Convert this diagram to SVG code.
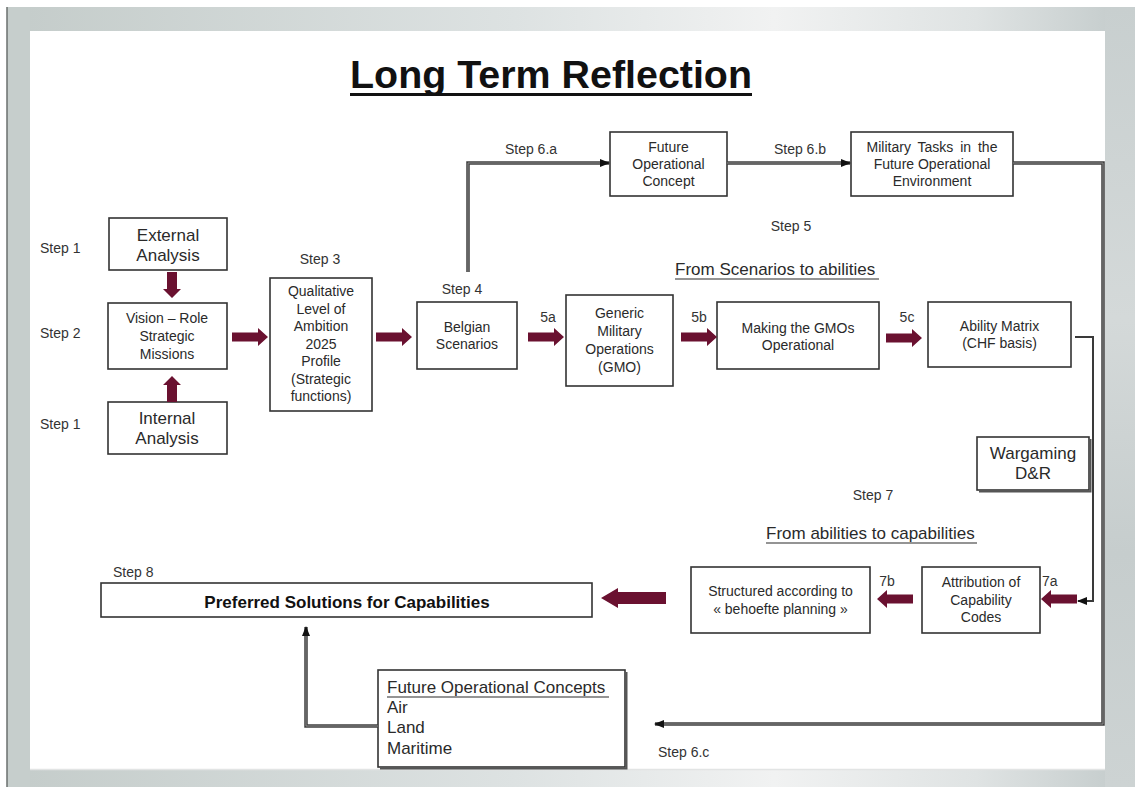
<svg xmlns="http://www.w3.org/2000/svg" width="1135" height="787" viewBox="0 0 1135 787">
  <defs>
    <linearGradient id="frameGrad" x1="0" y1="0" x2="1" y2="0">
      <stop offset="0" stop-color="#c4ccca"/>
      <stop offset="0.45" stop-color="#dde2e2"/>
      <stop offset="0.68" stop-color="#f1f2f2"/>
      <stop offset="0.86" stop-color="#dfe3e3"/>
      <stop offset="1" stop-color="#c2caca"/>
    </linearGradient>
    <linearGradient id="rightGrad" x1="0" y1="0" x2="0" y2="1">
      <stop offset="0" stop-color="#c8cfcf"/>
      <stop offset="0.4" stop-color="#d4d9d9"/>
      <stop offset="0.7" stop-color="#c6cdcd"/>
      <stop offset="1" stop-color="#cdd3d3"/>
    </linearGradient>
    <marker id="tip" viewBox="0 0 10 8" refX="9" refY="4" markerWidth="10" markerHeight="8" markerUnits="userSpaceOnUse" orient="auto">
      <path d="M0,0 L10,4 L0,8 Z" fill="#111"/>
    </marker>
    <!-- block arrows, origin at the tip, pointing right -->
    <path id="blk" d="M-36,-4.5 L-10,-4.5 L-10,-9 L0,0 L-10,9 L-10,4.5 L-36,4.5 Z"/>
    <path id="blkS" d="M-26,-5 L-9,-5 L-9,-9 L0,0 L-9,9 L-9,5 L-26,5 Z"/>
    <path id="blkL" d="M-65,-6 L-17,-6 L-17,-10 L0,0 L-17,10 L-17,6 L-65,6 Z"/>
    <style>
      .box { fill: #fff; stroke: #333; stroke-width: 1.6; }
      .shadow { fill: none; stroke: #555; stroke-width: 2; }
      .t { font-family: "Liberation Sans", Arial, sans-serif; font-size: 14px; fill: #2a2a2a; text-anchor: middle; }
      .tl { font-family: "Liberation Sans", Arial, sans-serif; font-size: 14px; fill: #2a2a2a; }
      .big { font-size: 17px; }
      .bold { font-size: 17px; font-weight: bold; fill: #111; }
      .step { font-family: "Liberation Sans", Arial, sans-serif; font-size: 14px; fill: #333; }
      .arr { fill: #6a1130; }
      .conn { fill: none; stroke: #3f3f3f; stroke-width: 3.5; }
      .connIn { fill: none; stroke: #8c8c8c; stroke-width: 1; }
      .thin { fill: none; stroke: #3a3a3a; stroke-width: 2; }
    </style>
  </defs>

  <!-- page frame -->
  <rect x="0" y="0" width="1135" height="787" fill="#fff"/>
  <rect x="7" y="7" width="1128" height="780" fill="url(#frameGrad)"/>
  <rect x="1105" y="7" width="30" height="780" fill="url(#rightGrad)"/>
  <rect x="7" y="7" width="23" height="780" fill="#c6cecc"/>
  <line x1="7" y1="7" x2="7" y2="787" stroke="#6a6f6e" stroke-width="1.5"/>
  <rect x="30" y="31" width="1075" height="738" fill="#fff"/>
  <line x1="30" y1="769.5" x2="1105" y2="769.5" stroke="#e2e4e4" stroke-width="1.5"/>

  <!-- title -->
  <g id="title">
    <text x="551" y="88" font-family="'Liberation Sans', Arial, sans-serif" font-size="39" font-weight="bold" fill="#111" text-anchor="middle" textLength="402" lengthAdjust="spacingAndGlyphs">Long Term Reflection</text>
    <rect x="350" y="93" width="402" height="3" fill="#111"/>
  </g>

  <!-- step labels -->
  <g id="labels">
    <text class="step" x="40" y="253">Step 1</text>
    <text class="step" x="40" y="338">Step 2</text>
    <text class="step" x="40" y="429">Step 1</text>
    <text class="step" x="320" y="264" text-anchor="middle">Step 3</text>
    <text class="step" x="462" y="294" text-anchor="middle">Step 4</text>
    <text class="step" x="531" y="154" text-anchor="middle">Step 6.a</text>
    <text class="step" x="800" y="154" text-anchor="middle">Step 6.b</text>
    <text class="step" x="791" y="231" text-anchor="middle">Step 5</text>
    <text class="step" x="873" y="500" text-anchor="middle">Step 7</text>
    <text class="step" x="113" y="577">Step 8</text>
    <text class="step" x="658" y="757">Step 6.c</text>
    <text class="step" x="548" y="322" text-anchor="middle">5a</text>
    <text class="step" x="699" y="322" text-anchor="middle">5b</text>
    <text class="step" x="907" y="322" text-anchor="middle">5c</text>
    <text class="step" x="887" y="586" text-anchor="middle">7b</text>
    <text class="step" x="1042" y="586">7a</text>
  </g>

  <!-- section headings -->
  <g id="heading-abilities">
    <text class="tl big" x="675" y="275">From Scenarios to abilities</text>
    <line x1="675" y1="279" x2="879" y2="279" stroke="#2a2a2a" stroke-width="1.2"/>
  </g>
  <g id="heading-capabilities">
    <text class="tl big" x="766" y="539">From abilities to capabilities</text>
    <line x1="766" y1="543" x2="977" y2="543" stroke="#2a2a2a" stroke-width="1.2"/>
  </g>

  <!-- nodes -->
  <g id="external-analysis">
    <rect class="box" x="109" y="218" width="118" height="52"/>
    <text class="t big" x="168" y="241">External</text>
    <text class="t big" x="168" y="261">Analysis</text>
  </g>
  <g id="vision">
    <rect class="box" x="108" y="303" width="119" height="66"/>
    <text class="t" x="167" y="323">Vision – Role</text>
    <text class="t" x="167" y="341">Strategic</text>
    <text class="t" x="167" y="359">Missions</text>
  </g>
  <g id="internal-analysis">
    <rect class="box" x="108" y="402" width="119" height="52"/>
    <text class="t big" x="167" y="424">Internal</text>
    <text class="t big" x="167" y="444">Analysis</text>
  </g>
  <g id="ambition">
    <rect class="box" x="270" y="278" width="102" height="133"/>
    <text class="t" x="321" y="296">Qualitative</text>
    <text class="t" x="321" y="313.5">Level of</text>
    <text class="t" x="321" y="331">Ambition</text>
    <text class="t" x="321" y="348.5">2025</text>
    <text class="t" x="321" y="366">Profile</text>
    <text class="t" x="321" y="383.5">(Strategic</text>
    <text class="t" x="321" y="401">functions)</text>
  </g>
  <g id="belgian-scenarios">
    <rect class="box" x="417" y="302" width="100" height="67"/>
    <text class="t" x="467" y="332">Belgian</text>
    <text class="t" x="467" y="349">Scenarios</text>
  </g>
  <g id="gmo">
    <rect class="box" x="566" y="295" width="107" height="91"/>
    <text class="t" x="619.5" y="318">Generic</text>
    <text class="t" x="619.5" y="336">Military</text>
    <text class="t" x="619.5" y="354">Operations</text>
    <text class="t" x="619.5" y="372">(GMO)</text>
  </g>
  <g id="gmo-operational">
    <rect class="box" x="717" y="302" width="162" height="67"/>
    <text class="t" x="798" y="333">Making the GMOs</text>
    <text class="t" x="798" y="350">Operational</text>
  </g>
  <g id="ability-matrix">
    <rect class="box" x="928" y="302" width="143" height="65"/>
    <text class="t" x="999.5" y="331">Ability Matrix</text>
    <text class="t" x="999.5" y="348">(CHF basis)</text>
  </g>
  <g id="future-operational-concept">
    <rect class="box" x="610" y="132" width="117" height="64"/>
    <text class="t" x="668.5" y="152">Future</text>
    <text class="t" x="668.5" y="169">Operational</text>
    <text class="t" x="668.5" y="186">Concept</text>
  </g>
  <g id="military-tasks">
    <rect class="box" x="851" y="132" width="162" height="64"/>
    <text class="t" x="932" y="152" word-spacing="3">Military Tasks in the</text>
    <text class="t" x="932" y="169">Future Operational</text>
    <text class="t" x="932" y="186">Environment</text>
  </g>
  <g id="wargaming">
    <rect class="box" x="977" y="437" width="112" height="53"/>
    <polyline class="shadow" points="1090.5,439 1090.5,491.5 979,491.5"/>
    <text class="t big" x="1033" y="459">Wargaming</text>
    <text class="t big" x="1033" y="479">D&amp;R</text>
  </g>
  <g id="attribution">
    <rect class="box" x="922" y="567" width="118" height="66"/>
    <text class="t" x="981" y="587">Attribution of</text>
    <text class="t" x="981" y="605">Capability</text>
    <text class="t" x="981" y="622">Codes</text>
  </g>
  <g id="structured">
    <rect class="box" x="691" y="567" width="179" height="66"/>
    <text class="t" x="780.5" y="596">Structured according to</text>
    <text class="t" x="780.5" y="614">« behoefte planning »</text>
  </g>
  <g id="preferred-solutions">
    <rect class="box" x="101" y="583" width="491" height="34"/>
    <text class="t bold" x="347" y="608">Preferred Solutions for Capabilities</text>
  </g>
  <g id="operational-concepts">
    <rect class="box" x="378" y="670" width="247" height="97"/>
    <polyline class="shadow" points="626.5,672 626.5,768.5 380,768.5"/>
    <text class="tl big" x="387" y="693">Future Operational Concepts</text>
    <line x1="387" y1="697" x2="609" y2="697" stroke="#2a2a2a" stroke-width="1.2"/>
    <text class="tl big" x="387" y="713">Air</text>
    <text class="tl big" x="387" y="733">Land</text>
    <text class="tl big" x="387" y="754">Maritime</text>
  </g>

  <!-- connectors -->
  <g id="connectors">
    <!-- block arrows -->
    <use href="#blkS" class="arr" transform="translate(172,298) rotate(90)"/>
    <use href="#blkS" class="arr" transform="translate(172,376) rotate(-90)"/>
    <use href="#blk" class="arr" transform="translate(268,337)"/>
    <use href="#blk" class="arr" transform="translate(412,337)"/>
    <use href="#blk" class="arr" transform="translate(564,337)"/>
    <use href="#blk" class="arr" transform="translate(717,337)"/>
    <use href="#blk" class="arr" transform="translate(922,338)"/>
    <use href="#blk" class="arr" transform="translate(1041,599) rotate(180)"/>
    <use href="#blk" class="arr" transform="translate(877,599) rotate(180)"/>
    <use href="#blkL" class="arr" transform="translate(601,598) rotate(180)"/>

    <!-- Step 6.a -->
    <path class="conn" d="M468,272 V163 H609" marker-end="url(#tip)"/>
    <path class="connIn" d="M468,272 V163 H600"/>
    <!-- Step 6.b -->
    <path class="conn" d="M727,163 H850" marker-end="url(#tip)"/>
    <path class="connIn" d="M727,163 H841"/>
    <!-- Step 6.c -->
    <path class="conn" d="M1013,163 H1103 V724 H655" marker-end="url(#tip)"/>
    <path class="connIn" d="M1013,163 H1103 V724 H664"/>
    <!-- ability matrix to attribution -->
    <path class="thin" d="M1075,337 H1093 V601 H1078" marker-end="url(#tip)"/>
    <!-- operational concepts to preferred solutions -->
    <path class="conn" d="M378,726 H306 V627" marker-end="url(#tip)"/>
    <path class="connIn" d="M378,726 H306 V636"/>
  </g>
</svg>
